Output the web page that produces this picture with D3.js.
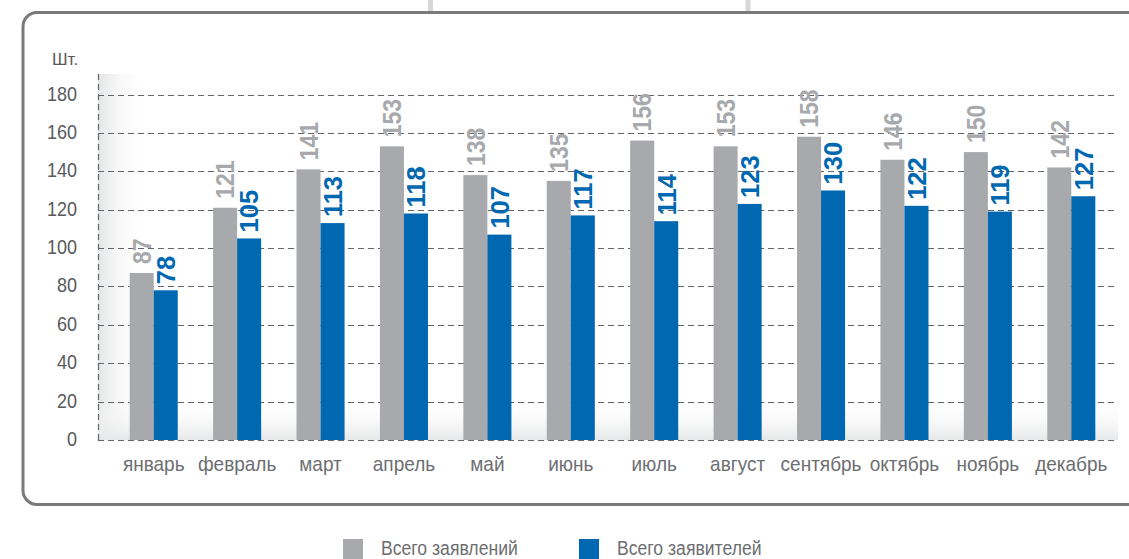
<!DOCTYPE html>
<html><head><meta charset="utf-8">
<script src="https://cdn.jsdelivr.net/npm/d3@7"></script>
<style>
html,body{margin:0;padding:0;background:#fff;}
svg{display:block;font-family:"Liberation Sans",Arial,sans-serif;}
</style></head>
<body>
<svg id="c" width="1129" height="559"></svg>
<script>
const months = ["январь","февраль","март","апрель","май","июнь","июль","август","сентябрь","октябрь","ноябрь","декабрь"];
const totalApplications = [87,121,141,153,138,135,156,153,158,146,150,142];
const totalApplicants = [78,105,113,118,107,117,114,123,130,122,119,127];
const seriesNames = ["Всего заявлений","Всего заявителей"];
const seriesColors = ["#a7a9ac","#0067b1"];
const labelColors = ["#a7a9ac","#0067b1"];
const yTicks = [0,20,40,60,80,100,120,140,160,180];
const yUnit = "Шт.";

const svg = d3.select("#c");
const defs = svg.append("defs");

// frame
svg.append("rect").attr("x",23).attr("y",12.5).attr("width",1200).attr("height",492)
  .attr("rx",14).attr("fill","none").attr("stroke","#7a7a7a").attr("stroke-width",3);
// top stubs
[430.5,748].forEach(x=>svg.append("rect").attr("x",x-2.5).attr("y",0).attr("width",5).attr("height",11).attr("fill","#d6d7d8"));

const x0 = d3.scaleBand().domain(months).range([112,1113]).paddingInner(0.424).paddingOuter(0.212);
const x1 = d3.scaleBand().domain(seriesNames).range([0,x0.bandwidth()]);
const y = d3.scaleLinear().domain([0,180]).range([440,94.5]);

const plotL = 98, plotR = 1118, plotT = 74;

// wall shading
const gL = defs.append("linearGradient").attr("id","gl").attr("x1",0).attr("x2",1).attr("y1",0).attr("y2",0);
gL.append("stop").attr("offset",0).attr("stop-color","#e4e5e6");
gL.append("stop").attr("offset",1).attr("stop-color","#ffffff").attr("stop-opacity",0);
svg.append("rect").attr("x",plotL).attr("y",plotT).attr("width",48).attr("height",y(0)-plotT).attr("fill","url(#gl)");
const gB = defs.append("linearGradient").attr("id","gb").attr("x1",0).attr("x2",0).attr("y1",0).attr("y2",1);
gB.append("stop").attr("offset",0).attr("stop-color","#ffffff").attr("stop-opacity",0);
gB.append("stop").attr("offset",1).attr("stop-color","#e6e7e8");
svg.append("rect").attr("x",plotL).attr("y",y(0)-40).attr("width",plotR-plotL).attr("height",40).attr("fill","url(#gb)");

// grid
svg.append("g").selectAll("line").data(yTicks).join("line")
  .attr("x1",plotL).attr("x2",plotR).attr("y1",d=>Math.round(y(d))+0.5).attr("y2",d=>Math.round(y(d))+0.5)
  .attr("stroke","#636466").attr("stroke-width",1.2).attr("stroke-dasharray","6,4");
svg.append("line").attr("x1",plotL+0.5).attr("x2",plotL+0.5).attr("y1",plotT).attr("y2",y(0))
  .attr("stroke","#636466").attr("stroke-width",1.2).attr("stroke-dasharray","6,4");

// y tick labels
const tg = svg.append("g");
yTicks.forEach(t=>{
  tg.append("text").attr("transform",`translate(77,${y(t)+6}) scale(1,1.08)`)
    .attr("text-anchor","end").attr("font-size",18).attr("fill","#58595b").text(t);
});
svg.append("text").attr("transform",`translate(52,65)`).attr("font-size",17).attr("fill","#58595b").text(yUnit);

// bars
const data = months.map((m,i)=>({m, v:[totalApplications[i], totalApplicants[i]]}));
const groups = svg.append("g").selectAll("g").data(data).join("g")
  .attr("transform",d=>`translate(${x0(d.m)},0)`);
groups.selectAll("rect").data(d=>d.v.map((v,j)=>({v,j}))).join("rect")
  .attr("x",d=>x1(seriesNames[d.j])).attr("width",x1.bandwidth())
  .attr("y",d=>y(d.v)).attr("height",d=>y(0)-y(d.v))
  .attr("fill",d=>seriesColors[d.j]);
const lblSize = [23,25.5], lblScale = [1.13,1.0], lblGap = [9,6];
groups.selectAll("text").data(d=>d.v.map((v,j)=>({v,j}))).join("text")
  .attr("transform",d=>`translate(${x1(seriesNames[d.j])+x1.bandwidth()/2+9.3},${y(d.v)-lblGap[d.j]}) rotate(-90) scale(1,${lblScale[d.j]})`)
  .attr("font-size",d=>lblSize[d.j]).attr("font-weight","bold").attr("fill",d=>labelColors[d.j])
  .text(d=>d.v);

// month labels
svg.append("g").selectAll("text").data(months).join("text")
  .attr("transform",d=>`translate(${x0(d)+x0.bandwidth()/2},471) scale(1,1.05)`)
  .attr("text-anchor","middle").attr("font-size",19).attr("fill","#6d6e71").text(d=>d);

// legend
const legX = [343,579];
seriesNames.forEach((s,i)=>{
  svg.append("rect").attr("x",legX[i]).attr("y",539).attr("width",20).attr("height",20).attr("fill",seriesColors[i]);
  svg.append("text").attr("transform",`translate(${legX[i]+38},555) scale(1,1.1)`).attr("font-size",17.6).attr("fill","#6d6e71").text(s);
});
</script>
</body></html>
